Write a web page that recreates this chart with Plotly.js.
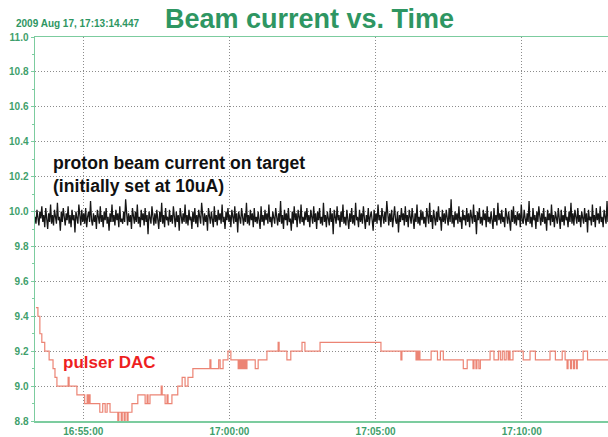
<!DOCTYPE html>
<html>
<head>
<meta charset="utf-8">
<script src="https://cdn.plot.ly/plotly-3.0.1.min.js"></script>
<style>
html,body{margin:0;padding:0;background:#fff;}
#chart{width:608px;height:437px;}
</style>
</head>
<body>
<div id="chart"></div>
<script>
// ---- data ----
var chartDate = "2009-08-17";
var timestampText = "2009 Aug 17, 17:13:14.447";
var titleText = "Beam current vs. Time";
var beamLabel = "proton beam current on target<br>(initially set at 10uA)";
var dacLabel = "pulser DAC";
var xTickStart = "16:55:00";

// proton beam current: one reading every 2 s starting at beamStart
var beamStart = "16:53:21";
var beamStepSec = 2;
var beamValues = [
9.97,9.93,10.01,9.95,9.92,10.00,9.96,10.03,9.94,9.98,9.91,10.02,9.95,9.90,9.99,9.94,10.04,9.93,9.98,9.92,
10.01,9.96,9.93,10.05,9.95,9.97,9.89,10.00,9.94,10.02,9.96,9.92,9.99,9.95,10.03,9.93,9.98,9.91,10.01,9.95,
9.98,9.88,10.00,9.96,9.93,10.04,9.95,9.92,10.01,9.94,9.99,9.93,10.02,9.91,9.97,10.00,9.94,10.06,9.95,9.92,
9.99,9.94,9.98,9.90,10.01,9.96,9.93,10.03,9.94,9.98,9.91,10.00,9.95,10.02,9.93,9.97,9.89,9.99,9.94,10.04,
9.94,9.98,9.92,10.01,9.95,9.99,9.91,10.03,9.94,9.96,9.93,10.00,9.94,10.07,9.95,9.92,9.99,9.94,9.98,9.90,
10.02,9.96,9.93,10.00,9.94,10.04,9.93,9.97,9.91,10.01,9.95,9.99,9.92,10.02,9.94,9.98,9.87,10.00,9.96,9.93,
10.03,9.95,9.92,9.99,9.93,10.01,9.96,9.90,10.00,9.94,10.05,9.93,9.98,9.91,10.02,9.95,9.97,9.92,10.01,9.94,
9.98,9.93,10.03,9.95,9.91,10.00,9.94,9.98,9.89,10.02,9.96,9.93,9.99,9.94,10.04,9.93,9.98,9.92,10.01,9.95,
9.97,9.90,10.00,9.94,10.02,9.93,9.98,9.91,10.01,9.96,9.93,10.05,9.95,9.92,9.99,9.94,9.98,9.89,10.02,9.95,
9.93,10.00,9.96,9.91,10.03,9.94,9.98,9.92,10.01,9.95,9.99,9.93,10.04,9.94,9.97,9.90,10.00,9.95,10.02,9.94,
9.98,9.91,10.01,9.96,9.93,10.03,9.94,9.99,9.88,10.00,9.95,9.93,10.02,9.96,9.92,9.99,9.94,10.05,9.93,9.98,
9.92,10.01,9.95,9.99,9.91,10.02,9.94,9.97,9.93,10.00,9.96,9.90,10.03,9.94,9.98,9.92,10.01,9.95,9.99,9.93,
10.04,9.94,9.97,9.91,10.00,9.95,9.93,10.02,9.96,9.92,9.99,9.94,10.06,9.93,9.98,9.90,10.01,9.95,9.99,9.92,
10.02,9.94,9.96,9.89,10.00,9.93,10.03,9.95,9.99,9.91,10.01,9.96,9.93,10.04,9.94,9.97,9.92,10.00,9.95,10.02,
9.94,9.98,9.91,10.01,9.96,9.93,10.03,9.94,9.99,9.90,10.00,9.95,10.02,9.93,9.97,9.92,10.05,9.94,9.98,9.91,
10.00,9.95,9.92,10.02,9.94,9.99,9.87,10.01,9.96,9.93,10.03,9.95,9.98,9.91,10.00,9.94,10.04,9.93,9.97,9.92,
10.01,9.96,9.90,9.99,9.94,10.02,9.93,9.98,9.92,10.05,9.95,9.97,9.91,10.01,9.94,9.99,9.93,10.03,9.96,9.90,
9.98,9.94,10.02,9.92,9.97,10.00,9.95,9.89,10.01,9.94,9.99,9.93,10.04,9.95,9.98,9.91,10.02,9.96,9.93,10.00,
9.94,10.06,9.95,9.92,9.99,9.94,10.01,9.91,9.97,10.03,9.95,9.93,10.00,9.88,9.98,9.94,10.02,9.95,9.99,9.92,
10.03,9.94,9.98,9.91,10.01,9.96,9.93,10.02,9.95,9.90,9.99,9.94,10.04,9.93,9.97,9.92,10.01,9.95,10.00,9.93,
9.97,9.91,10.02,9.95,9.93,10.05,9.94,9.98,9.90,10.01,9.96,9.92,10.00,9.94,10.03,9.95,9.97,9.89,10.01,9.94,
9.99,9.93,10.01,9.96,9.92,10.02,9.94,10.07,9.93,9.98,9.91,10.00,9.95,9.99,9.93,10.03,9.94,9.97,9.90,10.01,
9.95,9.98,9.92,10.02,9.94,9.99,9.91,10.01,9.96,9.93,10.04,9.94,9.98,9.87,10.00,9.95,10.02,9.93,9.97,9.92,
10.01,9.95,9.99,9.91,10.03,9.94,9.97,9.93,10.00,9.96,9.90,10.02,9.94,9.98,9.92,10.05,9.95,9.99,9.93,10.01,
9.94,9.97,9.91,10.02,9.95,9.93,10.00,9.96,9.89,10.01,9.94,10.03,9.93,9.98,9.92,10.00,9.95,9.99,9.91,10.04,
9.95,9.93,10.01,9.96,9.92,9.99,9.94,10.06,9.93,9.97,9.91,10.02,9.95,9.98,9.90,10.00,9.94,10.03,9.96,9.92,
9.99,9.94,10.02,9.93,9.97,9.89,10.01,9.95,9.99,9.92,10.04,9.94,9.98,9.91,10.00,9.96,9.93,10.02,9.95,9.90,
10.01,9.94,9.98,9.92,10.03,9.95,9.97,9.91,10.00,9.94,10.05,9.93,9.99,9.92,10.01,9.96,9.93,10.02,9.94,9.98,
9.91,10.00,9.95,9.93,10.02,9.94,9.99,9.88,10.01,9.95,9.97,9.92,10.04,9.94,9.98,9.91,10.02,9.95,9.99,9.93,
10.03,9.94,9.97,9.91,10.01,9.95,9.93,10.06,9.94,9.98,9.90,10.00,9.95,10.02,9.93,9.97,9.92,10.01,9.95,9.98
];

// pulser DAC: step changes (time, new value)
var dacTimes = [
"16:53:23","16:53:27","16:53:31","16:53:35","16:53:41","16:53:50","16:53:58","16:54:02","16:54:06","16:54:29",
"16:54:31","16:54:47","16:55:03","16:55:08","16:55:10","16:55:12","16:55:14","16:55:34","16:55:40","16:55:45",
"16:55:49","16:55:55","16:56:11","16:56:13","16:56:18","16:56:20","16:56:24","16:56:26","16:56:30","16:56:32",
"16:56:40","16:56:52","16:57:07","16:57:11","16:57:13","16:57:17","16:57:40","16:57:42","16:57:48","16:57:52",
"16:57:54","16:58:02","16:58:14","16:58:23","16:58:29","16:58:35","16:58:45","16:59:20","16:59:22","16:59:38",
"16:59:41","16:59:47","16:59:57","17:00:03","17:00:18","17:00:20","17:00:22","17:00:24","17:00:26","17:00:28",
"17:00:30","17:00:32","17:00:34","17:00:36","17:00:53","17:00:59","17:01:17","17:01:40","17:01:42","17:01:58",
"17:02:06","17:02:29","17:02:35","17:03:06","17:05:11","17:05:52","17:05:54","17:06:23","17:06:25","17:06:27",
"17:06:29","17:06:31","17:06:54","17:07:07","17:07:13","17:07:19","17:08:00","17:08:08","17:08:20","17:08:22",
"17:08:26","17:08:28","17:08:32","17:08:35","17:08:55","17:09:03","17:09:12","17:09:16","17:09:20","17:09:24",
"17:09:28","17:09:32","17:09:34","17:09:36","17:09:42","17:10:03","17:10:17","17:10:28","17:10:58","17:11:09",
"17:11:23","17:11:29","17:11:33","17:11:35","17:11:40","17:11:42","17:11:46","17:11:48","17:11:52","17:11:54",
"17:12:06","17:12:15","17:12:58"
];
var dacValues = [
9.45,9.40,9.30,9.25,9.20,9.15,9.10,9.05,9.00,9.05,
9.00,8.95,8.90,8.95,8.90,8.95,8.90,8.85,8.90,8.85,
8.90,8.85,8.80,8.85,8.80,8.85,8.80,8.85,8.80,8.85,
8.90,8.95,8.90,8.95,8.90,8.95,9.00,8.95,8.90,8.95,
8.90,8.95,9.00,9.05,9.00,9.05,9.10,9.15,9.10,9.15,
9.10,9.15,9.20,9.15,9.10,9.15,9.10,9.15,9.10,9.15,
9.10,9.15,9.10,9.15,9.10,9.15,9.20,9.25,9.20,9.15,
9.20,9.25,9.20,9.25,9.20,9.15,9.20,9.15,9.20,9.15,
9.20,9.15,9.20,9.15,9.20,9.15,9.10,9.15,9.10,9.15,
9.10,9.15,9.10,9.15,9.20,9.15,9.20,9.15,9.20,9.15,
9.20,9.15,9.20,9.15,9.20,9.15,9.20,9.15,9.20,9.15,
9.20,9.15,9.10,9.15,9.10,9.15,9.10,9.15,9.10,9.15,
9.20,9.15,9.15
];

var xRange = ["16:53:21", "17:12:57"];
var yRange = [8.8, 11.0];

// ---- build ----
function ts(t){ return chartDate + " " + t; }
var base = new Date(ts(beamStart).replace(" ", "T") + "Z").getTime();
function fmt(ms){
  var d = new Date(ms);
  function p(n){ return (n<10?"0":"") + n; }
  return chartDate + " " + p(d.getUTCHours()) + ":" + p(d.getUTCMinutes()) + ":" + p(d.getUTCSeconds());
}
var beamTimes = beamValues.map(function(_, i){ return fmt(base + i*beamStepSec*1000); });

var GREEN_T = "#2e9662";
var GREEN_L = "#7ccc9f";
var GREEN_K = "#3f9f6c";
var FONT = "Liberation Sans, Arial, sans-serif";
var GRID = "#8c8c8c";

var traces = [
  { x: beamTimes, y: beamValues, type: "scatter", mode: "lines",
    line: { color: "#161616", width: 1.3 }, hoverinfo: "skip" },
  { x: dacTimes.map(ts), y: dacValues, type: "scatter", mode: "lines",
    line: { color: "#ec8474", width: 1.2, shape: "hv" }, hoverinfo: "skip" }
];

var layout = {
  width: 608, height: 437,
  margin: { l: 35, r: 0, t: 37, b: 16, pad: 0 },
  paper_bgcolor: "#ffffff", plot_bgcolor: "#ffffff",
  showlegend: false,
  font: { family: FONT, color: GREEN_K },
  title: { text: titleText, font: { family: FONT, size: 27, color: GREEN_T, weight: "bold" },
           xref: "container", x: 165/608, xanchor: "left",
           yref: "container", y: 1 - 9/437, yanchor: "top" },
  xaxis: {
    type: "date", range: xRange.map(ts),
    tick0: ts(xTickStart), dtick: 300000, tickformat: "%H:%M:%S",
    showline: true, linecolor: GREEN_L, linewidth: 1.5, mirror: true,
    ticks: "",
    showgrid: true, gridcolor: GRID, griddash: "1px,2px", gridwidth: 1,
    zeroline: false,
    tickfont: { family: FONT, size: 10, color: GREEN_K, weight: "bold" }
  },
  yaxis: {
    range: yRange, dtick: 0.2, tick0: 8.8, tickformat: ".1f",
    showline: true, linecolor: GREEN_L, linewidth: 1.5,
    ticks: "outside", ticklen: 3, tickcolor: GREEN_L,
    minor: { dtick: 0.1, ticks: "outside", ticklen: 2, tickcolor: GREEN_L, showgrid: false },
    showgrid: true, gridcolor: GRID, griddash: "1px,2px", gridwidth: 1,
    zeroline: false,
    tickfont: { family: FONT, size: 10, color: GREEN_K, weight: "bold" }
  },
  annotations: [
    { text: timestampText, xref: "paper", yref: "paper", x: (15 - 35)/573, xanchor: "left",
      y: 1, yanchor: "bottom", yshift: 7, borderpad: 0, showarrow: false,
      font: { family: FONT, size: 10, color: GREEN_T, weight: "bold" } },
    { text: beamLabel, xref: "paper", yref: "y", x: (51 - 35)/573, xanchor: "left",
      y: 10.215, yanchor: "middle", align: "left", showarrow: false,
      font: { family: FONT, size: 17.6, color: "#111111", weight: "bold" } },
    { text: dacLabel, xref: "paper", yref: "y", x: (61 - 35)/573, xanchor: "left",
      y: 9.135, yanchor: "middle", align: "left", showarrow: false,
      font: { family: FONT, size: 17, color: "#ee1f1f", weight: "bold" } }
  ]
};

Plotly.newPlot("chart", traces, layout, { displayModeBar: false, staticPlot: true });
</script>
</body>
</html>
